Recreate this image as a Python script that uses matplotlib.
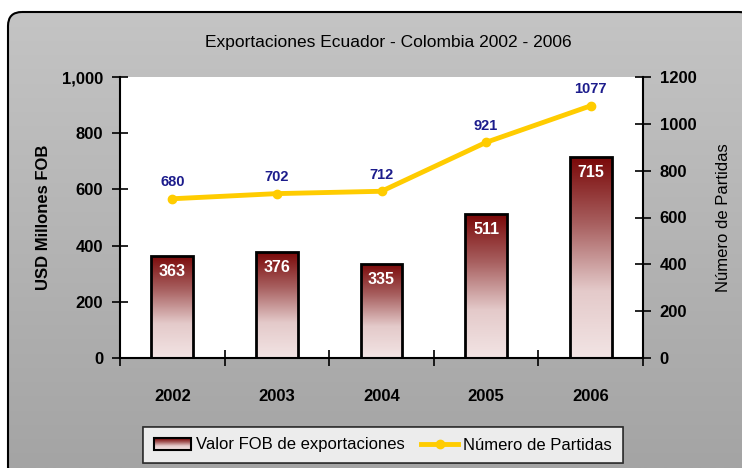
import numpy as np
import matplotlib
matplotlib.use("Agg")
import matplotlib.pyplot as plt
from matplotlib.patches import Rectangle, FancyBboxPatch
from matplotlib.legend_handler import HandlerBase
from matplotlib.colors import LinearSegmentedColormap
from matplotlib.ticker import FuncFormatter, MultipleLocator

years = ["2002", "2003", "2004", "2005", "2006"]
fob_values = [363, 376, 335, 511, 715]
partidas = [680, 702, 712, 921, 1077]

plt.rcParams['font.family'] = ['Liberation Sans', 'DejaVu Sans']

fig = plt.figure(figsize=(7.42, 4.68), dpi=100)
fig.patch.set_facecolor('white')

# background gradient panel
bg = fig.add_axes([0, 0, 1, 1], zorder=-10)
bg.set_xlim(0, 742); bg.set_ylim(468, 0); bg.axis('off')
grad = np.linspace(0, 1, 256).reshape(-1, 1)
bgcmap = LinearSegmentedColormap.from_list('bg', ['#c4c4c4', '#a4a4a4'])
im = bg.imshow(grad, cmap=bgcmap, extent=[8, 742, 468, 12], aspect='auto', zorder=0)
box = FancyBboxPatch((8, 12), 745, 470, boxstyle="round,pad=0,rounding_size=14",
                     facecolor='none', edgecolor='black', linewidth=1.5, zorder=2)
bg.add_patch(box)
im.set_clip_path(box)

ax = fig.add_axes([120/742, 110/468, 523/742, 281/468])
ax.set_facecolor('white')
x = np.arange(len(years))

barcmap = LinearSegmentedColormap.from_list('bar', ['#f2e4e4', '#e4caca', '#a86060', '#7a0808'])
width = 0.4
bars = ax.bar(x, fob_values, width=width, facecolor='none', edgecolor='black', linewidth=2, zorder=3)
for b in bars:
    x0, y0 = b.get_x(), b.get_y()
    w, h = b.get_width(), b.get_height()
    g = ax.imshow(grad, cmap=barcmap, origin='lower', extent=[x0, x0 + w, y0, y0 + h],
                  aspect='auto', zorder=2)
    g.set_clip_path(b)
    ax.text(x0 + w / 2, y0 + h - 28, str(int(h)), ha='center', va='top',
            color='white', fontsize=11.5, fontweight='bold', zorder=5)
ax.set_aspect('auto')
ax.set_xlim(-0.5, len(years) - 0.5)
ax.set_ylim(0, 1000)

ax.yaxis.set_major_locator(MultipleLocator(200))
ax.yaxis.set_major_formatter(FuncFormatter(lambda v, p: f"{int(v):,}"))
ax.set_xticks(x)
ax.set_xticklabels(years)
ax.set_xticks(np.arange(-0.5, len(years)), minor=True)
ax.tick_params(axis='x', which='major', length=0, pad=22, labelsize=12)
ax.tick_params(axis='x', which='minor', direction='inout', length=12, width=1.2)
ax.tick_params(axis='y', direction='inout', length=12, width=1.2, labelsize=12, pad=6)
for lbl in ax.get_xticklabels() + ax.get_yticklabels():
    lbl.set_fontweight('bold')
for s in ['top', 'right']:
    ax.spines[s].set_visible(False)
for s in ['left', 'bottom']:
    ax.spines[s].set_linewidth(1.5)
ax.set_ylabel('USD Millones FOB', fontsize=12, fontweight='bold', labelpad=8)

ax2 = ax.twinx()
ax2.set_ylim(0, 1200)
ax2.yaxis.set_major_locator(MultipleLocator(200))
line, = ax2.plot(x, partidas, color='#ffcc00', linewidth=3.5, marker='o', markersize=6,
                 markerfacecolor='#ffcc00', markeredgecolor='#ffcc00', zorder=6)
for xi, v in zip(x, partidas):
    ax2.text(xi, v + 40, str(v), ha='center', va='bottom', color='#1c1c8c',
             fontsize=10.5, fontweight='bold')
ax2.tick_params(axis='y', direction='inout', length=12, width=1.2, labelsize=12, pad=6)
for lbl in ax2.get_yticklabels():
    lbl.set_fontweight('bold')
for s in ['top', 'left', 'bottom']:
    ax2.spines[s].set_visible(False)
ax2.spines['right'].set_linewidth(1.5)
ax2.set_ylabel('Número de Partidas', fontsize=12, labelpad=14, rotation=90)

fig.text(388/742, 1 - 42/468, 'Exportaciones Ecuador - Colombia 2002 - 2006', ha='center',
         va='center', fontsize=12.5)


class GradHandler(HandlerBase):
    def create_artists(self, legend, orig_handle, xdescent, ydescent, width, height, fontsize, trans):
        arts = []
        n = 12
        for i in range(n):
            c = barcmap(i / (n - 1))
            r = Rectangle((-xdescent, -ydescent + height * i / n), width, height / n + 0.3,
                          facecolor=c, edgecolor='none', transform=trans)
            arts.append(r)
        arts.append(Rectangle((-xdescent, -ydescent), width, height, facecolor='none',
                              edgecolor='black', linewidth=1.5, transform=trans))
        return arts


proxy = Rectangle((0, 0), 1, 1)
leg = fig.legend([proxy, line], ['Valor FOB de exportaciones', 'Número de Partidas'],
                 handler_map={Rectangle: GradHandler()}, loc='center',
                 bbox_to_anchor=(383/742, 1 - 445/468), ncol=2, frameon=True,
                 fancybox=False, edgecolor='black', fontsize=12, handlelength=2.2,
                 handletextpad=0.3, columnspacing=1.0, borderpad=0.65)
leg.get_frame().set_linewidth(1.2)

fig.savefig('out.png', dpi=100)
